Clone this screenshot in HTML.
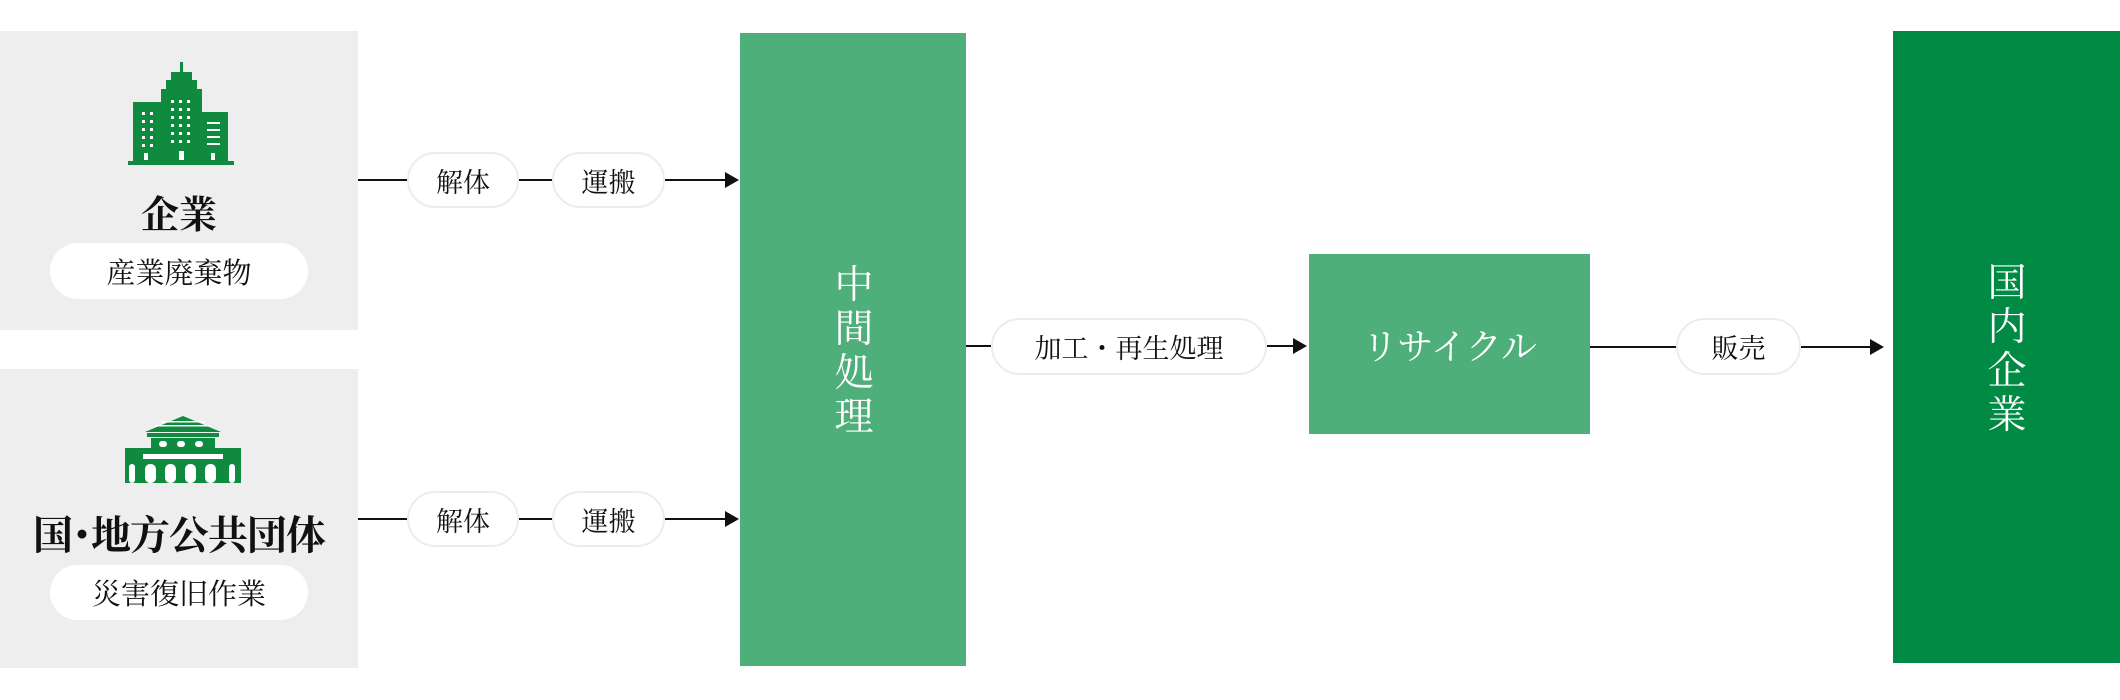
<!DOCTYPE html>
<html><head><meta charset="utf-8"><style>
*{margin:0;padding:0;box-sizing:border-box}
body{width:2120px;height:700px;background:#fff;position:relative;overflow:hidden;font-family:"Liberation Serif","Noto Serif CJK SC",serif;color:#111}
.abs{position:absolute}
.gray{background:#eeeeee}
.pill{position:absolute;background:#fff;border:2px solid #ececec;border-radius:30px;display:flex;align-items:center;justify-content:center;font-size:27px}
.wpill{position:absolute;background:#fff;border-radius:30px;display:flex;align-items:center;justify-content:center;font-size:29px}
.line{position:absolute;height:2px;background:#111}
.arr{position:absolute;width:0;height:0;border-top:8px solid transparent;border-bottom:8px solid transparent;border-left:14px solid #111}
.vt{position:absolute;color:#fff;font-size:39px;line-height:44px;text-align:center;width:50px}
</style></head><body>
<div class="abs gray" style="left:0;top:31px;width:358px;height:299px"></div>
<div class="abs gray" style="left:0;top:369px;width:358px;height:299px"></div>
<svg class="abs" style="left:128px;top:62px" width="106" height="103" viewBox="0 0 106 103">
<g fill="#0f8a3f">
<rect x="52" y="0" width="3" height="10"/><rect x="43" y="10" width="21" height="10"/><rect x="38" y="18" width="31" height="10"/>
<rect x="33" y="27" width="41" height="75"/><rect x="5" y="40" width="30" height="62"/><rect x="72" y="50" width="28" height="52"/>
<rect x="0" y="99" width="106" height="4"/></g>
<g fill="#fff">
<rect x="14" y="50" width="3" height="3"/><rect x="22" y="50" width="3" height="3"/><rect x="14" y="58" width="3" height="3"/><rect x="22" y="58" width="3" height="3"/><rect x="14" y="66" width="3" height="3"/><rect x="22" y="66" width="3" height="3"/><rect x="14" y="74" width="3" height="3"/><rect x="22" y="74" width="3" height="3"/><rect x="14" y="82" width="3" height="3"/><rect x="22" y="82" width="3" height="3"/>
<rect x="43" y="38" width="3" height="3"/><rect x="51" y="38" width="3" height="3"/><rect x="59" y="38" width="3" height="3"/><rect x="43" y="46" width="3" height="3"/><rect x="51" y="46" width="3" height="3"/><rect x="59" y="46" width="3" height="3"/><rect x="43" y="54" width="3" height="3"/><rect x="51" y="54" width="3" height="3"/><rect x="59" y="54" width="3" height="3"/><rect x="43" y="62" width="3" height="3"/><rect x="51" y="62" width="3" height="3"/><rect x="59" y="62" width="3" height="3"/><rect x="43" y="70" width="3" height="3"/><rect x="51" y="70" width="3" height="3"/><rect x="59" y="70" width="3" height="3"/><rect x="43" y="78" width="3" height="3"/><rect x="51" y="78" width="3" height="3"/><rect x="59" y="78" width="3" height="3"/>
<rect x="79" y="60" width="13" height="2"/><rect x="79" y="67" width="13" height="2"/><rect x="79" y="74" width="13" height="2"/><rect x="79" y="81" width="13" height="2"/>
<rect x="16" y="91" width="4" height="7"/><rect x="51" y="89" width="5" height="9"/><rect x="83" y="91" width="4" height="7"/></g></svg>
<div class="abs" style="left:0;width:358px;top:184px;text-align:center;font-size:38px;font-weight:bold">企業</div>
<div class="wpill" style="left:50px;top:243px;width:258px;height:56px">産業廃棄物</div>
<svg class="abs" style="left:125px;top:416px" width="116" height="67" viewBox="0 0 116 67">
<g fill="#0f8a3f"><polygon points="58,0 20,16 96,16"/><rect x="22" y="17" width="72" height="4"/><rect x="26" y="22" width="64" height="12"/>
<rect x="0" y="32" width="116" height="35"/></g>
<g fill="#fff"><rect x="30" y="9" width="56" height="1.5"/><rect x="36" y="5" width="44" height="1.5"/><rect x="34" y="25" width="8" height="6" rx="3"/><rect x="52" y="25" width="8" height="6" rx="3"/><rect x="70" y="25" width="8" height="6" rx="3"/>
<rect x="18" y="38" width="80" height="5"/>
<rect x="4" y="48" width="6" height="19" rx="3"/><rect x="20" y="48" width="11" height="19" rx="5"/><rect x="40" y="48" width="11" height="19" rx="5"/><rect x="60" y="48" width="11" height="19" rx="5"/><rect x="80" y="48" width="11" height="19" rx="5"/><rect x="104" y="48" width="6" height="19" rx="3"/></g></svg>
<div class="abs" style="left:0;width:358px;top:504px;text-align:center;font-size:40px;font-weight:bold;letter-spacing:-1px">国･地方公共団体</div>
<div class="wpill" style="left:50px;top:565px;width:258px;height:55px">災害復旧作業</div>

<div class="line" style="left:358px;top:179px;width:50px"></div>
<div class="pill" style="left:407px;top:152px;width:112px;height:56px">解体</div>
<div class="line" style="left:519px;top:179px;width:33px"></div>
<div class="pill" style="left:552px;top:152px;width:113px;height:56px">運搬</div>
<div class="line" style="left:665px;top:179px;width:62px"></div>
<div class="arr" style="left:725px;top:172px"></div>

<div class="line" style="left:358px;top:518px;width:50px"></div>
<div class="pill" style="left:407px;top:491px;width:112px;height:56px">解体</div>
<div class="line" style="left:519px;top:518px;width:33px"></div>
<div class="pill" style="left:552px;top:491px;width:113px;height:56px">運搬</div>
<div class="line" style="left:665px;top:518px;width:62px"></div>
<div class="arr" style="left:725px;top:511px"></div>

<div class="abs" style="left:740px;top:33px;width:226px;height:633px;background:#4faf7b"></div>
<div class="vt" style="left:829px;top:264px">中<br>間<br>処<br>理</div>

<div class="line" style="left:966px;top:345px;width:25px"></div>
<div class="pill" style="left:991px;top:318px;width:276px;height:57px">加工・再生処理</div>
<div class="line" style="left:1267px;top:345px;width:28px"></div>
<div class="arr" style="left:1293px;top:338px"></div>

<div class="abs" style="left:1309px;top:254px;width:281px;height:180px;background:#4faf7b;color:#fff;font-size:36px;display:flex;align-items:center;justify-content:center">リサイクル</div>

<div class="line" style="left:1590px;top:346px;width:86px"></div>
<div class="pill" style="left:1676px;top:318px;width:125px;height:57px">販売</div>
<div class="line" style="left:1801px;top:346px;width:70px"></div>
<div class="arr" style="left:1870px;top:339px"></div>

<div class="abs" style="left:1893px;top:31px;width:227px;height:632px;background:#008a43"></div>
<div class="vt" style="left:1982px;top:262px">国<br>内<br>企<br>業</div>
</body></html>
